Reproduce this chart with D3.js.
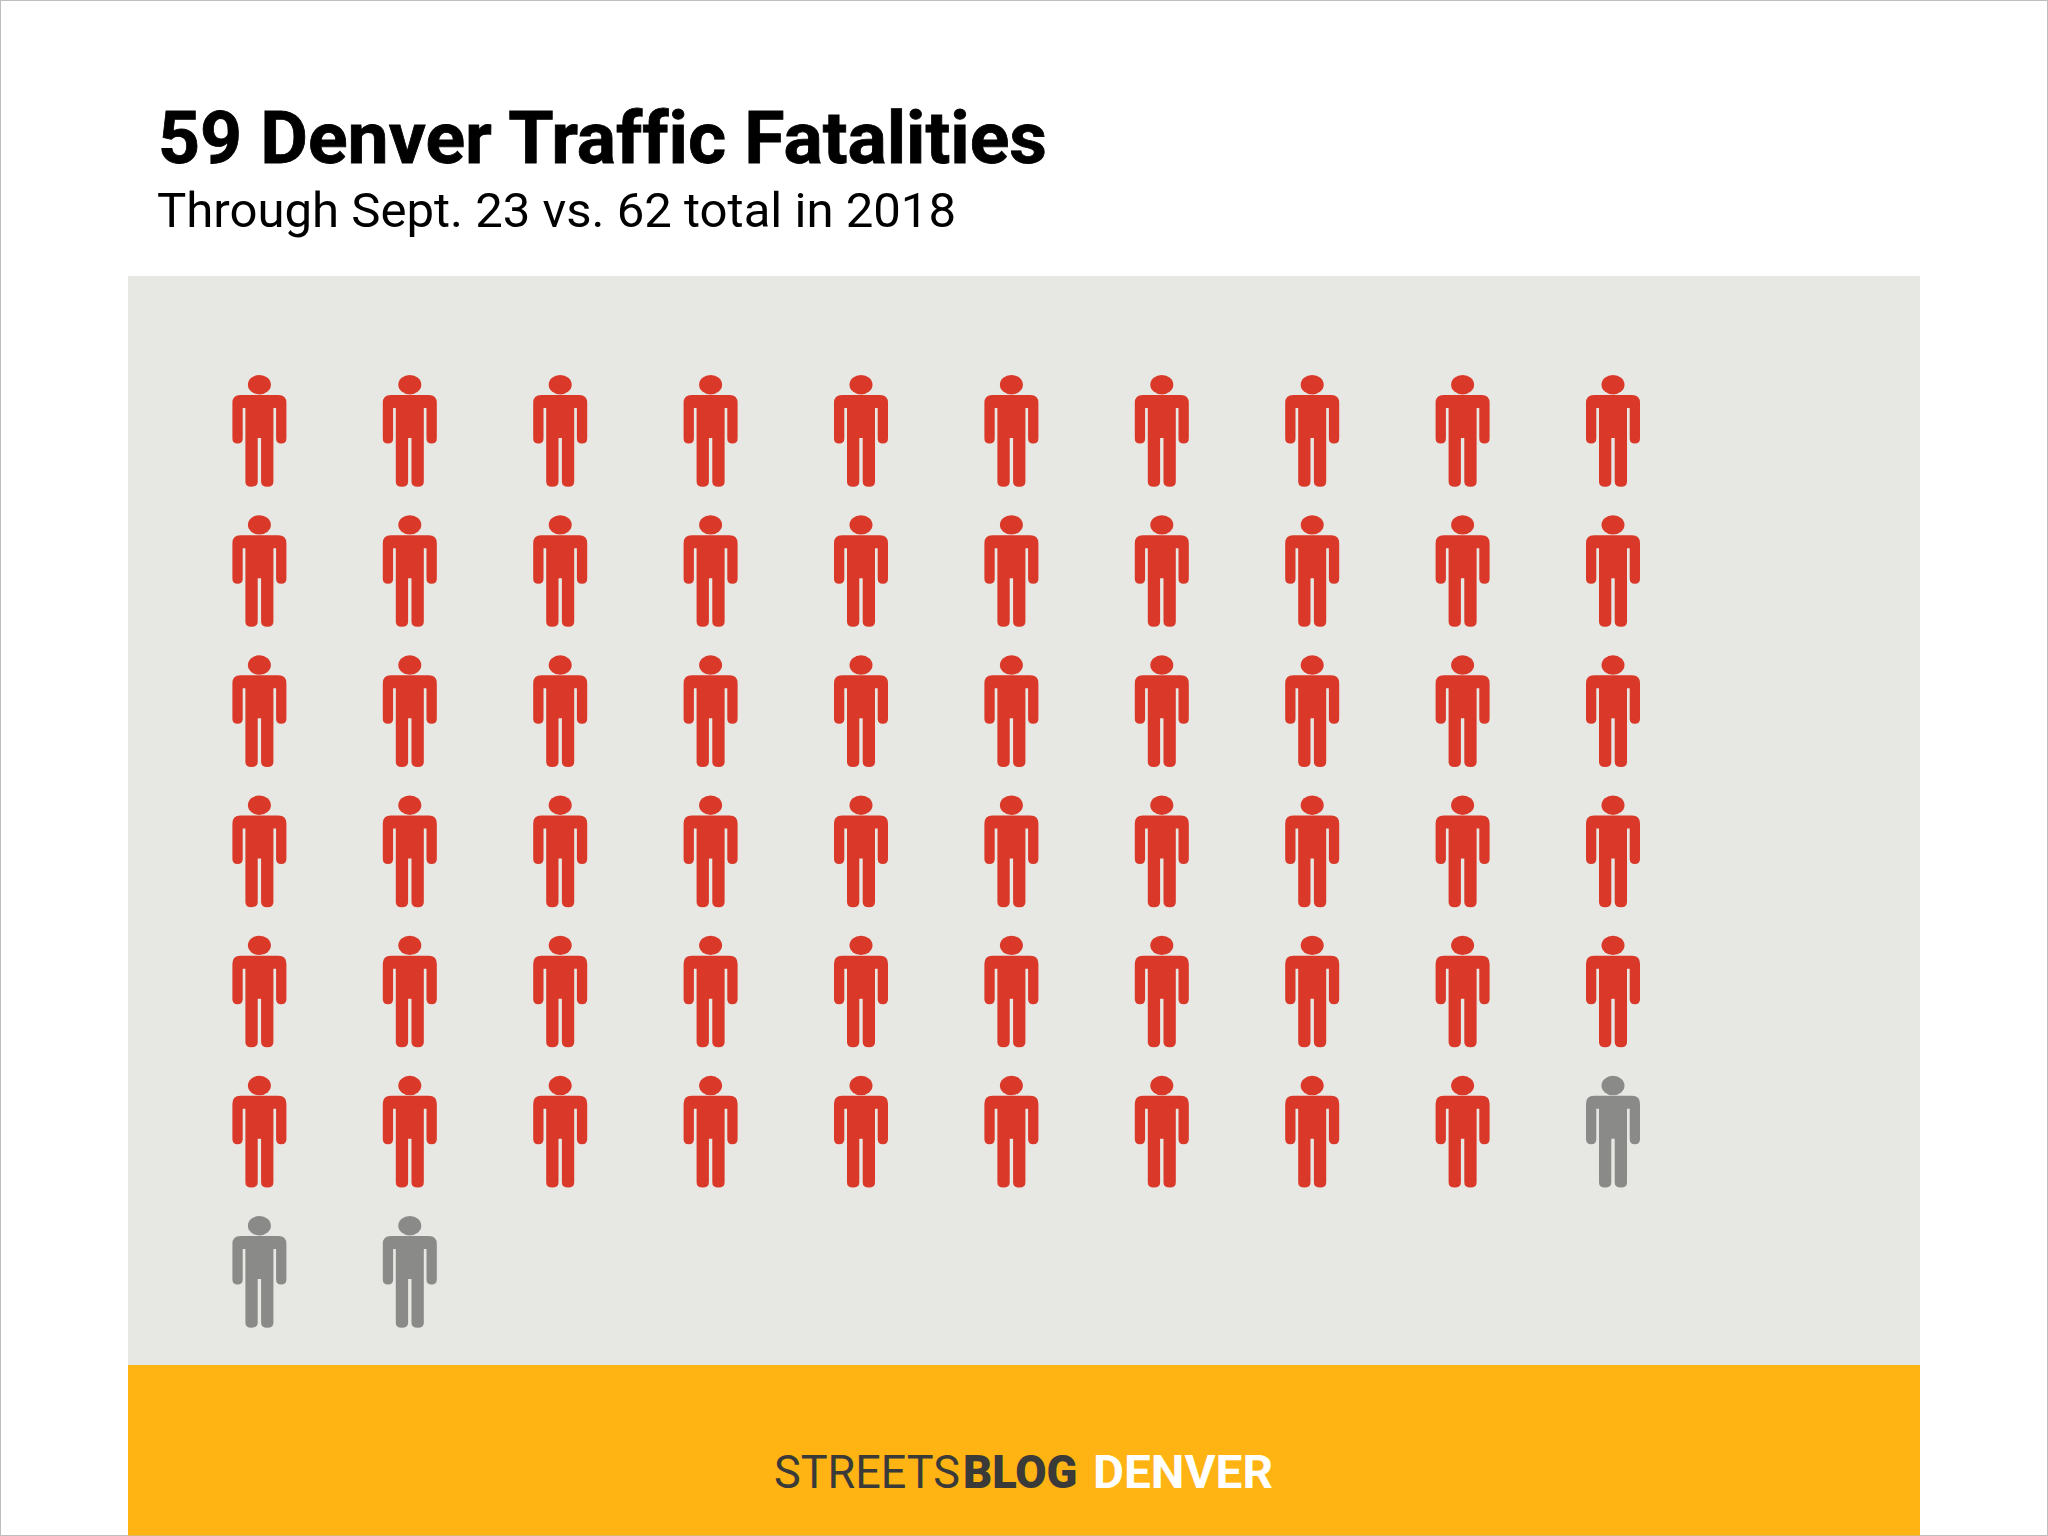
<!DOCTYPE html>
<html><head><meta charset="utf-8">
<script src="https://cdn.jsdelivr.net/npm/d3@7"></script>
<style>html,body{margin:0;padding:0;background:#fff}svg{display:block}text{font-family:Roboto,sans-serif;font-variant-ligatures:none}</style>
</head><body><svg id="c" width="2048" height="1536"></svg>
<script>
const categories = ["Fatalities through Sept. 23", "Remainder of 2018 total"];
const counts = [59, 3];
const colours = ["#da3829", "#8a8a88"];
const perRow = 10;
const titleText = "59 Denver Traffic Fatalities";
const subtitleText = "Through Sept. 23 vs. 62 total in 2018";

const svg = d3.select("#c");
svg.append("rect").attr("x",0.5).attr("y",0.5).attr("width",2047).attr("height",1535).attr("fill","#fff").attr("stroke","#bdbdbd");
svg.append("rect").attr("x",128).attr("y",276).attr("width",1792).attr("height",1089).attr("fill","#e7e7e3");
svg.append("rect").attr("x",128).attr("y",1365).attr("width",1792).attr("height",170.5).attr("fill","#ffb414");

svg.append("text").text(titleText).attr("x",158).attr("y",163).attr("font-size",73).attr("font-weight",700).attr("fill","#000")
   .attr("stroke","#000").attr("stroke-width",0.8)
   .attr("textLength",889).attr("lengthAdjust","spacingAndGlyphs");
svg.append("text").text(subtitleText).attr("x",157).attr("y",227).attr("font-size",49).attr("font-weight",400).attr("fill","#000")
   .attr("textLength",799).attr("lengthAdjust","spacingAndGlyphs");

const people = categories.flatMap((c,i)=>d3.range(counts[i]).map(()=>({category:c})));
people.forEach((p,i)=>{p.col=i%perRow;p.row=Math.floor(i/perRow);});
const x = d3.scaleLinear().domain([0,perRow-1]).range([259.4,1613]);
const y = d3.scaleLinear().domain([0,6]).range([375,1216]);
const colour = d3.scaleOrdinal().domain(categories).range(colours);

// person glyph, local origin at the top of the head on the centre line
const body = d3.path();
(function(p){
  const w=27,t=20,armB=68.5,botY=111.7,gapY=63,r=8;
  p.moveTo(-w+r,t);
  p.lineTo(w-r,t);
  p.quadraticCurveTo(w,t,w,t+r);
  p.lineTo(w,armB-5);
  p.quadraticCurveTo(w,armB,w-5.2,armB);
  p.quadraticCurveTo(w-10.3,armB,w-10.3,armB-5);
  p.lineTo(w-10.3,33);
  p.lineTo(14,33);
  p.lineTo(14,botY-5);
  p.quadraticCurveTo(14,botY,8,botY);
  p.quadraticCurveTo(1.7,botY,1.7,botY-5);
  p.lineTo(1.7,gapY);
  p.lineTo(-1.7,gapY);
  p.lineTo(-1.7,botY-5);
  p.quadraticCurveTo(-1.7,botY,-8,botY);
  p.quadraticCurveTo(-14,botY,-14,botY-5);
  p.lineTo(-14,33);
  p.lineTo(-(w-10.3),33);
  p.lineTo(-(w-10.3),armB-5);
  p.quadraticCurveTo(-(w-10.3),armB,-(w-5.2),armB);
  p.quadraticCurveTo(-w,armB,-w,armB-5);
  p.lineTo(-w,t+r);
  p.quadraticCurveTo(-w,t,-w+r,t);
  p.closePath();
})(body);

const g = svg.append("g").selectAll("g").data(people).join("g")
  .attr("transform",d=>`translate(${x(d.col)},${y(d.row)})`).attr("fill",d=>colour(d.category));
g.append("ellipse").attr("cx",0).attr("cy",9.7).attr("rx",11.5).attr("ry",9.7);
g.append("path").attr("d",body.toString());

const logo = [
 {t:"STREETS",x:774,w:186,wt:400,c:"#3a3a38"},
 {t:"BLOG",x:963,w:114.5,wt:900,c:"#3a3a38"},
 {t:"DENVER",x:1093,w:180,wt:700,c:"#ffffff"}];
svg.append("g").selectAll("text").data(logo).join("text")
  .text(d=>d.t).attr("x",d=>d.x).attr("y",1488).attr("font-size",46.5)
  .attr("font-weight",d=>d.wt).attr("fill",d=>d.c)
  .attr("textLength",d=>d.w).attr("lengthAdjust","spacingAndGlyphs");
</script></body></html>
